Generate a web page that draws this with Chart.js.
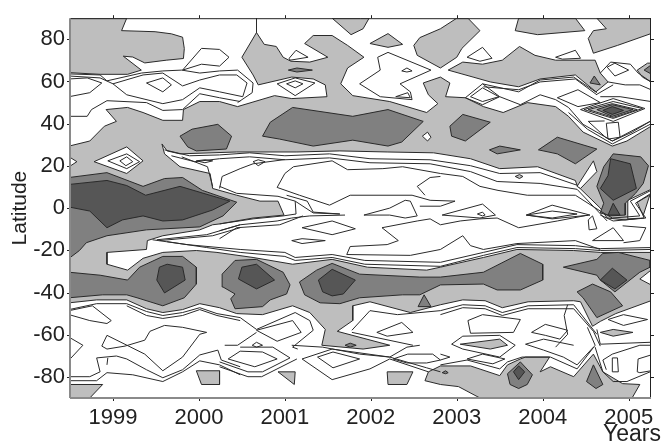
<!DOCTYPE html>
<html>
<head>
<meta charset="utf-8">
<script src="https://cdn.jsdelivr.net/npm/chart.js@4"></script>
<style>
html, body { margin: 0; padding: 0; background: #fff; }
canvas { display: block; }
</style>
</head>
<body>
<canvas id="canvas" width="661" height="446"></canvas>
<script>
// tick labels
var yearTicks = [1999, 2000, 2001, 2002, 2003, 2004, 2005];
var latTicks = [-80, -60, -40, -20, 0, 20, 40, 60, 80];

// contour bands, each one is year,lat,year,lat,...
var grayPatches = [
    [1998.49,29.4, 1998.73,31.8, 1998.90,38.8, 1999.04,41.1, 1998.92,46.7, 1999.17,47.7, 1999.35,45.3, 1999.58,41.6, 1999.81,41.6, 1999.82,46.7, 2000.01,50.5, 2000.24,50.5, 2000.45,48.1, 2000.88,53.3, 2001.08,51.9, 2001.49,52.8, 2001.47,58.4, 2001.33,61.2, 2001.08,62.1, 2000.69,58.4, 2000.63,63.1, 2000.50,71.5, 2000.67,83.2, 2000.76,77.6, 2000.90,76.6, 2000.98,71.5, 2001.07,69.6, 2001.29,69.2, 2001.50,71.5, 2001.23,78, 2001.33,81.8, 2001.55,81.8, 2001.73,77.1, 2001.92,71.5, 2001.73,66.4, 2001.65,58.9, 2001.79,53.3, 2002.22,50.5, 2002.65,45.3, 2002.78,49.5, 2002.67,53.7, 2002.61,59.3, 2002.81,62.1, 2002.92,59.3, 2002.87,52.8, 2003.10,52.3, 2003.31,48.1, 2003.54,45.3, 2003.82,50, 2004.15,48.1, 2004.30,43.5, 2004.47,36, 2004.81,29.4, 2004.98,31.8, 2005.26,38.8,
     2005.26,7.9, 2005.16,-4.7, 2004.96,-5.6, 2004.75,-4.7, 2004.67,0, 2004.40,10.7, 2004.38,13.1, 2003.94,19.6, 2003.50,18.7, 2003.16,23.4, 2002.73,26.2, 2002.19,26.6, 2001.64,27.1, 2001.14,26.6, 2000.44,26.6, 1999.78,25.7, 1999.63,27.1, 1999.57,30.4, 1999.60,25.7, 1999.78,19.6, 2000.13,16.4, 2000.16,9.3, 2000.44,6.1, 2000.71,3.3, 2000.92,3.3, 2000.99,-3.3, 2000.63,-4.7, 2000.24,-7.5, 2000.16,-7.9, 2000.01,-10.3, 1999.58,-13.1, 1999.40,-15.4, 1999.39,-19.6, 1998.93,-21, 1998.93,-26.6, 1999.17,-29.4, 1999.35,-23.8, 1999.58,-21, 1999.97,-20.1, 2000.21,-21, 2000.63,-23.4, 2001.09,-26.6, 2001.55,-24.3, 2001.96,-28, 2002.65,-29.4, 2002.81,-28, 2003.31,-23.4, 2003.70,-19.6, 2004.36,-20.1, 2004.67,-21, 2005.26,-21,
     2005.26,-43.9, 2004.85,-50, 2004.67,-53.7, 2004.58,-56, 2004.44,-44.4, 2004.36,-43.9, 2003.83,-44.4, 2003.53,-47.2, 2003.33,-43.9, 2003.07,-43.5, 2002.81,-45.8, 2002.46,-49.5, 2001.99,-44.4, 2001.79,-46.3, 2001.79,-53.3, 2001.61,-58.4, 2002.22,-65, 2001.91,-66.8, 2001.43,-65, 2001.47,-57.5, 2001.29,-49.5, 2001.09,-46.3, 2000.74,-50.5, 2000.44,-50, 2000.24,-47.2, 2000.01,-45.3, 1999.81,-48.1, 1999.58,-49.5, 1999.39,-47.7, 1999.16,-43.5, 1998.81,-43.5, 1998.49,-44.9],
    [1998.49,90, 1999.16,90, 1999.10,84.1, 1999.49,83.6, 1999.68,82.6, 1999.81,81, 1999.83,75.6, 1999.82,70.9, 1999.62,70.1, 1999.37,68.8, 1999.23,71.6, 1999.12,72, 1999.33,65.4, 1999.17,63.4, 1998.85,63.4, 1998.49,64.2],
    [2001.99,78, 2002.20,82.7, 2002.37,77.6, 2002.20,76.2],
    [2001.55,90, 2001.77,82.2, 2001.91,85, 2001.98,90],
    [2002.50,77.1, 2002.57,80.8, 2002.81,85, 2003.00,90, 2003.13,90, 2003.27,84.1, 2003.06,75.7, 2003.00,71.5, 2002.81,66.4, 2002.54,72.4],
    [2003.68,84.1, 2003.72,90, 2004.38,90, 2004.49,84.1, 2003.94,82.2],
    [2004.53,80.4, 2004.59,84.1, 2004.74,85, 2004.63,90, 2005.26,90, 2005.26,82.7, 2004.87,77.1, 2004.59,73.4],
    [2002.90,65.4, 2003.07,69.2, 2003.30,68.2, 2003.53,70.1, 2003.73,76.6, 2003.91,72.4, 2004.15,70.1, 2004.61,70.1, 2004.67,64, 2004.76,59.8, 2004.62,55.1, 2004.38,63.1, 2003.97,61.2, 2003.72,57.5, 2003.39,59.8, 2003.19,62.1],
    [2005.10,65.4, 2005.22,68.7, 2005.26,68.7, 2005.26,59.8, 2005.16,62.1],
    [2004.53,46.7, 2004.81,49.5, 2005.10,46.7, 2004.82,43],
    [1998.49,-83.6, 1998.88,-83.6, 1998.73,-90, 1998.49,-90],
    [1999.97,-77.1, 2000.24,-77.1, 2000.24,-83.6, 2000.03,-83.6],
    [2000.92,-77.6, 2001.12,-77.6, 2001.11,-83.6],
    [2002.19,-77.6, 2002.49,-77.6, 2002.42,-83.6, 2002.20,-83.6],
    [2002.67,-77.6, 2002.81,-74.8, 2003.16,-74.8, 2003.50,-79.4, 2003.59,-74.3, 2003.74,-71.5, 2003.80,-70.6, 2004.08,-70.6, 2003.97,-77.6, 2004.09,-75.2, 2004.36,-79.9, 2004.59,-69.2, 2004.70,-77.6, 2004.93,-83.2, 2005.13,-83.6, 2005.04,-90, 2003.27,-90, 2003.02,-84.6, 2002.81,-83.6, 2002.63,-81.8],
    [2003.04,-64.5, 2003.50,-62.1, 2003.59,-65, 2003.39,-66.8],
    [2004.67,-58.9, 2004.82,-57.5, 2005.05,-58.9, 2004.82,-60.7],
    [2003.68,15, 2003.73,15.9, 2003.77,15, 2003.73,14]
];

var whitePatches = [
    [1998.49,24.3, 1998.58,22, 1998.49,19.6],
    [1998.78,22, 1999.16,29, 1999.35,22.4, 1999.16,16.4],
    [2004.40,10.3, 2004.59,22.4, 2004.63,17.3, 2004.44,9.3],
    [2002.60,34.1, 2002.66,36, 2002.70,33.6, 2002.66,31.8],
    [2004.99,3.7, 2005.26,8.9, 2005.26,6.5, 2005.10,2.8, 2005.18,-4.7, 2004.99,-5.1],
    [2005.13,-33.6, 2005.26,-29.4, 2005.26,-36.4]
];

var darkPatches = [
    [1999.78,34.1, 1999.92,37.4, 2000.22,39.7, 2000.38,34.1, 2000.32,28, 1999.97,27.1, 1999.87,29],
    [2000.74,34.1, 2000.83,40.7, 2001.09,47.7, 2001.79,43.5, 2002.20,46.7, 2002.61,41.1, 2002.36,31.3, 2002.20,29.4, 2001.79,32.2, 2001.33,29.4, 2000.94,32.7],
    [2002.92,38.8, 2003.07,44.4, 2003.39,40.7, 2003.10,31.8, 2002.94,34.1],
    [2003.38,27.6, 2003.50,29.4, 2003.74,27.6, 2003.47,25.7],
    [2003.95,27.6, 2004.17,33.6, 2004.63,28, 2004.38,21, 2004.17,25.7],
    [2004.82,25.7, 2005.14,24.3, 2005.23,20.1, 2005.17,11.7, 2005.08,7, 2004.96,2.3, 2004.96,-3.3, 2004.79,-3.7, 2004.67,-2.3, 2004.71,2.3, 2004.63,10.3, 2004.71,19.6],
    [1998.49,14.5, 1998.93,16.8, 1999.35,10.3, 1999.60,14, 1999.81,14.5, 2000.04,8.4, 2000.44,2.8, 2000.28,-3.7, 2000.01,-8.9, 1999.39,-10.3, 1998.93,-13.1, 1998.69,-16.4, 1998.61,-20.1, 1998.49,-23.8],
    [1998.49,-30.4, 1998.85,-31.8, 1999.17,-34.1, 1999.31,-28, 1999.58,-22.9, 1999.81,-22.9, 1999.97,-28, 1999.97,-36, 1999.83,-42.5, 1999.58,-46.3, 1999.28,-42.5, 1999.16,-41.1, 1998.88,-41.1, 1998.49,-42.5],
    [2000.27,-31.3, 2000.42,-24.8, 2000.67,-24.3, 2000.98,-30.4, 2001.06,-36.4, 2001.02,-40.7, 2000.83,-43.5, 2000.74,-46.7, 2000.42,-47.7, 2000.37,-43, 2000.42,-40.7, 2000.28,-37.4],
    [2001.17,-35, 2001.37,-29.4, 2001.55,-26.2, 2001.87,-31.3, 2002.57,-32.7, 2002.81,-32.7, 2003.31,-30.4, 2003.74,-21.5, 2004.00,-26.6, 2004.00,-34.1, 2003.74,-38.8, 2003.47,-38.8, 2003.31,-36, 2002.81,-36.4, 2002.57,-41.1, 2002.37,-41.1, 2001.87,-42.5, 2001.64,-45.3, 2001.41,-44.9, 2001.23,-41.1],
    [2004.24,-28, 2004.63,-24.3, 2004.70,-21.5, 2004.88,-21, 2005.25,-24.8, 2005.25,-28, 2005.13,-30.4, 2004.84,-39.7, 2004.67,-34.1, 2004.63,-31.8],
    [2004.40,-39.7, 2004.58,-36, 2004.79,-39.7, 2004.93,-46.3, 2004.63,-51.9, 2004.47,-42.5],
    [2002.55,-46.7, 2002.62,-41.1, 2002.70,-46.7],
    [2004.63,46.7, 2004.81,49, 2005.05,46.7, 2004.81,43.5],
    [2003.59,-78.5, 2003.74,-72.9, 2003.88,-79, 2003.82,-83.6, 2003.72,-85.5, 2003.62,-83.6],
    [2004.51,-82.2, 2004.59,-74.3, 2004.70,-83.6, 2004.62,-85.5],
    [2004.55,59.3, 2004.60,62.6, 2004.67,58.4],
    [2005.18,65.4, 2005.26,67.8, 2005.26,63.6],
    [2002.83,-78, 2002.87,-77.1, 2002.90,-78, 2002.87,-78.5],
    [2001.70,-65, 2001.76,-64, 2001.83,-65, 2001.76,-65.9],
    [2001.04,65.4, 2001.14,66.4, 2001.32,65.4, 2001.14,64.5]
];

var darkestPatches = [
    [2004.79,23.4, 2005.02,21, 2005.09,9.3, 2004.82,3.7, 2004.67,9.3, 2004.76,15.4],
    [2004.82,2.3, 2004.90,-3.3, 2004.76,-3.3],
    [1998.49,11.2, 1998.93,13.1, 1999.16,10.7, 1999.38,6.1, 1999.78,10.3, 2000.36,3.3, 2000.16,-0.9, 1999.81,-5.6, 1999.58,-6.1, 1999.35,-3.7, 1999.11,-5.6, 1998.93,-9.3, 1998.73,-1.4, 1998.49,0.5],
    [1999.51,-34.1, 1999.54,-28, 1999.63,-26.6, 1999.81,-28, 1999.84,-34.1, 1999.60,-40.2],
    [2000.46,-33.6, 2000.50,-28, 2000.67,-26.6, 2000.88,-34.1, 2000.67,-38.3],
    [2001.39,-34.1, 2001.55,-29, 2001.82,-34.1, 2001.68,-40.7, 2001.55,-41.6, 2001.44,-39.7],
    [2004.67,-34.1, 2004.81,-28.5, 2004.98,-34.1, 2004.84,-38.3],
    [2004.70,46.3, 2004.81,48.1, 2004.94,46.3, 2004.81,44.4],
    [2003.66,-77.6, 2003.72,-74.8, 2003.79,-77.6, 2003.72,-81.3]
];

// contour lines with no fill of their own
var contourLines = [
    [2000.67,90, 2000.67,83.2],
    [1998.49,63.6, 1998.85,63.1, 1998.93,60.3, 1999.33,64, 1999.58,65, 1999.80,65.4, 2000.01,64, 2000.24,65, 2000.45,65.4, 2000.63,59.3, 2000.62,54.7, 2000.45,50],
    [1999.00,58.9, 1999.35,63.1, 1999.58,64, 1999.81,57.9, 2000.01,60.7, 2000.24,63.1, 2000.44,63.1, 2000.56,59.3, 2000.51,52.8, 2000.24,55.1, 2000.01,57, 1999.81,51.4, 1999.58,49.5, 1999.16,53.7, 1999.00,58.9],
    [1998.49,62.6, 1998.85,61.7, 1999.00,58.9],
    [1998.49,61.2, 1998.70,61.7, 1998.87,59.3, 1998.73,54.7, 1998.49,52.8],
    [1998.49,43.5, 1998.70,43.5, 1998.75,46.7, 1998.93,50.9, 1999.39,50, 1999.58,46.3, 1999.81,46.7, 2000.01,54.2, 2000.24,52.3, 2000.48,50.5],
    [1999.39,59.3, 1999.58,61.7, 1999.68,58.4, 1999.58,55.1, 1999.39,59.3],
    [1999.81,65.4, 2000.03,75.7, 2000.24,75.2, 2000.35,71.5, 2000.24,67.3, 2000.03,68.2, 1999.81,65.4],
    [2001.05,71, 2001.13,74.8, 2001.27,71.5, 2001.06,70.1, 2001.05,71],
    [2000.91,58.9, 2001.12,61.7, 2001.35,59.3, 2001.12,53.3, 2000.91,58.9],
    [2001.02,58.9, 2001.12,60.3, 2001.21,58.9, 2001.12,57, 2001.02,58.9],
    [2001.87,58.9, 2002.11,65.4, 2002.08,71.5, 2002.20,73.8, 2002.70,65.4, 2002.34,58.9, 2002.46,55.1, 2002.48,51.4, 2002.11,52.8, 2001.87,58.9],
    [2002.36,65, 2002.42,66.4, 2002.48,65, 2002.42,64.5, 2002.36,65],
    [2002.29,52.8, 2002.43,54.7, 2002.46,52.3, 2002.29,52.8],
    [2003.12,71.5, 2003.30,76.2, 2003.41,71, 2003.27,69.6, 2003.12,71.5],
    [2004.15,71.5, 2004.38,74.8, 2004.44,71, 2004.23,70.6, 2004.15,71.5],
    [2004.67,64, 2004.79,69.2, 2005.02,68.2, 2005.11,64, 2005.26,59.8],
    [2004.75,66.8, 2004.84,68.7, 2005.00,65.4, 2004.84,62.6, 2004.75,66.8],
    [2004.76,59.8, 2004.96,58.4, 2005.13,58.4, 2005.26,56.1],
    [2004.62,53.7, 2004.82,58.4],
    [2004.67,52.8, 2004.90,52.8, 2005.26,50.5],
    [2004.17,52.3, 2004.41,56.1, 2004.67,50, 2004.41,48.1, 2004.17,52.3],
    [2003.10,52.3, 2003.30,58.9, 2003.50,52.8, 2003.30,49, 2003.10,52.3],
    [2003.16,52.8, 2003.30,57, 2003.49,52.8, 2003.30,50.5, 2003.16,52.8],
    [2003.30,58.9, 2003.72,55.1, 2003.97,60.7, 2004.36,62.1, 2004.63,54.7],
    [2003.31,57.5, 2003.72,56.1, 2003.97,59.8, 2004.38,61.2, 2004.63,53.7],
    [2003.50,52.8, 2003.74,49, 2003.97,53.7, 2004.15,51.4, 2004.30,47.7, 2004.47,39.7, 2004.81,31.8, 2005.25,41.1],
    [2004.30,45.3, 2004.52,37.4, 2004.81,30.4, 2005.25,39.7],
    [2004.44,46.7, 2004.82,51.9, 2005.19,47.2, 2004.82,41.1, 2004.44,46.7],
    [2004.48,46.7, 2004.82,50.5, 2005.16,47.2, 2004.82,42.5, 2004.48,46.7],
    [2004.53,41.1, 2004.73,33.6, 2004.81,31.8, 2005.04,36, 2005.25,41.1],
    [2004.53,41.1, 2004.72,41.3],
    [2004.74,40.2, 2004.88,40.7, 2004.90,33.6, 2004.76,32.7, 2004.74,40.2],

    [1998.94,22.4, 1999.16,25.7, 1999.31,22, 1999.16,18.7, 1998.94,22.4],
    [1999.08,22.4, 1999.16,24.3, 1999.23,22, 1999.15,20.1, 1999.08,22.4],
    [1999.97,22.4, 2000.07,22.9, 2000.16,22.4, 2000.07,21.5, 1999.97,22.4],
    [1999.80,24.3, 2000.10,19.6, 2000.16,10.3],
    [2000.24,9.3, 2000.27,15, 2000.48,18.7, 2000.63,21, 2001.00,23],
    [2000.63,22, 2000.69,22.9, 2000.77,22, 2000.69,20.1, 2000.63,22],
    [1999.60,27.6, 1999.89,24.8, 2000.24,25.2, 2000.59,26.2, 2001.00,24.8, 2001.52,25.7, 2001.99,23.4, 2002.69,22.9, 2003.16,20.1, 2003.50,16.4, 2003.97,16.8, 2004.41,10.7],
    [1999.68,24.8, 1999.95,22, 2000.24,23.4, 2000.59,24.3, 2001.00,22.9, 2001.52,23.8, 2001.99,21.5, 2002.69,21, 2003.16,17.3, 2003.47,12.6, 2003.97,11.7, 2004.40,8.9, 2004.75,-6.1],
    [2000.91,9.8, 2001.00,16.4, 2001.10,19.6, 2001.55,22.4, 2001.73,18.2, 2002.14,18.7, 2002.37,19.6, 2002.81,16.4, 2003.07,15, 2003.27,10.3, 2003.48,8.4, 2003.82,6.1, 2004.38,6.1, 2004.67,-1.4],
    [2000.91,9.8, 2001.17,6.1, 2001.52,1.4, 2001.76,6.1, 2002.48,6.1, 2002.69,3.7, 2002.98,3.3, 2002.81,0.9, 2002.57,0.9],
    [2002.81,15, 2002.69,14.5, 2002.54,10.3, 2002.63,6.1],
    [2001.92,-3.3, 2002.22,0, 2002.40,3.7, 2002.46,3.3, 2002.54,-3.7, 2002.40,-4.7, 2002.22,-3.3, 2001.92,-3.3],
    [2000.24,10.3, 2000.44,7, 2000.92,5.6, 2001.12,3.3, 2001.13,-2.8, 2000.98,-3.7, 2000.63,-5.1, 2000.24,-7.5],
    [2001.12,3.3, 2001.33,-2.3, 2001.64,-2.8, 2001.33,-1.9],
    [2001.02,6.1, 2001.26,3.3, 2001.33,-1.9],
    [2000.24,-10.7, 2000.48,-7.9, 2000.91,-6.1, 2001.08,-4.7, 2001.29,-3.7, 2001.70,-3.3],
    [2000.24,-14.5, 2000.44,-9.3, 2000.94,-7.9, 2001.21,-3.7],
    [1999.51,-15, 2000.09,-12.6, 2000.48,-7.9],
    [1999.54,-15.4, 2000.16,-13.1, 2000.48,-9.3],
    [1999.46,-15, 1999.86,-17.3, 2000.48,-19.6, 2001.00,-21, 2001.12,-23.4, 2001.55,-22, 2001.93,-24.8, 2002.81,-25.7, 2003.31,-21, 2003.70,-17.3, 2004.38,-17.8, 2004.67,-19.2, 2005.26,-18.7],
    [1999.63,-15.9, 2000.09,-18.7, 2000.48,-21, 2001.00,-22.9, 2001.12,-24.8, 2001.55,-23.4, 2001.93,-26.6, 2002.81,-27.6, 2003.31,-22.4, 2003.70,-18.7, 2004.38,-19.2, 2004.67,-20.1, 2005.26,-19.6],
    [2001.20,-9.3, 2001.55,-6.1, 2001.82,-9.8, 2001.55,-12.6, 2001.20,-9.3],
    [2001.08,-15.4, 2001.20,-14.5, 2001.47,-15.4, 2001.20,-16.8, 2001.08,-15.4],
    [2001.72,-22, 2001.76,-18.2, 2002.19,-17.3, 2002.32,-15.4, 2002.13,-9.3, 2002.54,-6.1, 2002.69,-5.1, 2002.81,-7.9, 2003.04,-6.1, 2003.27,-5.1, 2003.47,-4.7, 2003.72,-9.3, 2004.17,-6.1, 2004.53,-3.3],
    [2001.72,-22, 2002.46,-22.4, 2002.81,-19.6, 2003.07,-13.1, 2003.16,-17.8, 2003.31,-19.6, 2003.70,-16.8, 2004.38,-15.4, 2004.67,-19.6],
    [2002.83,-3.3, 2003.30,1.9, 2003.45,-3.3, 2003.27,-4.7, 2002.83,-3.3],
    [2003.81,-3.3, 2004.11,-1.4, 2004.40,-2.8, 2004.11,-4.7, 2003.81,-3.3],
    [2003.81,-3.3, 2004.11,1.4, 2004.55,-3.3, 2004.11,-5.1, 2003.81,-3.3],
    [2003.24,-2.8, 2003.30,-1.9, 2003.33,-3.3, 2003.30,-3.7, 2003.24,-2.8],
    [2004.58,-15.4, 2004.82,-9.3, 2004.94,-15.4, 2004.58,-15.4],
    [2004.93,-8.4, 2005.20,-9.3, 2005.13,-15.4, 2004.94,-16.4],
    [2004.53,-5.6, 2004.58,-3.7, 2004.63,-9.8, 2004.54,-10.3, 2004.53,-5.6],
    [2004.67,-3.3, 2004.82,-6.1, 2005.20,-4.7, 2005.08,2.3, 2005.26,7],
    [2004.67,-1.4, 2004.81,-4.7, 2005.13,-3.7, 2005.02,3.3, 2005.26,8.4],

    [1998.49,-48.1, 1998.81,-45.3, 1999.16,-45.3, 1999.39,-49, 1999.58,-50.9, 1999.81,-49.5, 2000.01,-47.2, 2000.21,-50, 2000.48,-51.9, 2000.67,-57.5, 2001.12,-49.5, 2001.29,-53.3, 2001.33,-57.9, 2001.09,-65.9, 2001.15,-66.8],
    [1998.49,-48.6, 1998.76,-46.3, 1998.98,-53.3, 1998.93,-54.7, 1998.73,-53.3, 1998.49,-50.5],
    [1999.16,-46.3, 1999.39,-50.9, 1999.58,-52.3, 1999.81,-50.9, 2000.01,-48.1, 2000.21,-50.9, 2000.48,-53.3],
    [2000.67,-57.9, 2001.09,-53.3, 2001.19,-58.9, 2000.91,-63.1, 2000.67,-57.9],
    [2000.30,-65, 2000.45,-65, 2000.67,-58.9],
    [2000.24,-72.9, 2000.57,-77.6, 2000.74,-77.6, 2001.06,-71, 2000.86,-65.9, 2000.48,-65.9],
    [2000.24,-75.2, 2000.57,-79.9, 2000.73,-79.9, 2001.14,-71.5],
    [2000.34,-71.5, 2000.48,-67.8, 2000.74,-68.2, 2000.91,-71.5, 2000.65,-75.2, 2000.34,-71.5],
    [2000.62,-65, 2000.67,-63.6, 2000.74,-65, 2000.67,-65.9, 2000.62,-65],
    [1998.87,-65.4, 1998.93,-60.3, 1999.37,-69.2, 1999.58,-77.1, 1999.81,-70.6, 2000.01,-59.8, 2000.09,-58.9, 1999.81,-56.5, 1999.60,-55.6, 1999.43,-58.4, 1999.37,-62.6, 1999.14,-65.4, 1998.93,-66.8, 1998.87,-65.4],
    [1998.49,-61.2, 1998.65,-65, 1998.49,-72],
    [1998.49,-79.9, 1998.73,-79.9, 1998.85,-77.6, 1998.81,-71, 1999.04,-70.1, 1999.16,-71.5, 1999.39,-76.6, 1999.58,-80.4, 1999.81,-76.6, 2000.01,-69.6, 2000.22,-67.3, 2000.26,-72, 2000.48,-75.2],
    [1998.49,-81.8, 1998.81,-81.8, 1998.93,-78, 1999.23,-79, 1999.58,-82.2, 1999.81,-77.6, 2000.01,-72.4, 2000.24,-74.3, 2000.48,-79],
    [1998.94,-71, 1998.93,-74.3],
    [2001.38,-70.6, 2001.56,-68.2, 2001.87,-71.5, 2001.56,-75.7, 2001.38,-70.6],
    [2001.20,-71.5, 2001.55,-66.8, 2002.22,-70.6, 2002.65,-75.7, 2002.81,-77.6],
    [2001.20,-71.5, 2001.55,-81.3, 2001.99,-76.2, 2002.22,-71.5, 2002.67,-77.6],
    [2002.26,-71.5, 2002.43,-69.2, 2002.72,-69.2, 2002.81,-72, 2002.65,-73.4, 2002.42,-73.4, 2002.26,-71.5],
    [2001.08,-65, 2001.44,-65.9, 2001.87,-69.2, 2002.22,-70.6, 2002.42,-65.9, 2002.57,-65],
    [2001.78,-57.9, 2001.99,-48.6, 2002.31,-50.5, 2002.81,-48.6],
    [2002.07,-58.9, 2002.36,-54.2, 2002.49,-58.9, 2002.19,-60.7, 2002.07,-58.9],
    [2001.78,-58.9, 2002.49,-65],
    [2002.81,-48.6, 2003.07,-45.8, 2003.33,-46.3, 2003.53,-49.5, 2003.83,-46.3, 2004.36,-45.8, 2004.63,-59.8],
    [2002.81,-50.5, 2003.07,-47.2, 2003.33,-47.7, 2003.53,-50.9, 2003.83,-47.7, 2004.36,-47.7, 2004.59,-58.4, 2004.67,-65.4],
    [2003.13,-53.3, 2003.30,-50.5, 2003.74,-52.8, 2003.66,-58.9, 2003.16,-59.3, 2003.13,-53.3],
    [2003.87,-58.9, 2004.03,-55.1, 2004.29,-57.9, 2004.20,-62.1, 2004.03,-60.3, 2003.87,-58.9],
    [2002.94,-64.5, 2003.07,-60.7, 2003.50,-60.3, 2003.68,-65, 2003.50,-70.6, 2003.07,-66.8, 2002.94,-64.5],
    [2003.12,-71.5, 2003.30,-69.2, 2003.56,-71.5, 2003.42,-73.8, 2003.12,-71.5],
    [2003.80,-64.5, 2004.01,-62.1, 2004.36,-65],
    [2003.80,-64.5, 2004.01,-67.3, 2004.24,-70.6, 2004.40,-74.3, 2004.59,-65.9],
    [2004.29,-45.8, 2004.25,-50.9, 2004.29,-59.8, 2004.15,-65.9],
    [2002.81,-69.2, 2002.92,-70.6, 2002.81,-72],
    [2002.81,-74.3, 2003.12,-72, 2003.50,-76.2, 2003.59,-72.9, 2003.76,-70.6, 2004.09,-70.6, 2004.40,-76.2, 2004.61,-65, 2004.52,-56.5],
    [2004.61,-65.9, 2004.70,-77.6, 2004.82,-82.2, 2004.98,-82.2, 2005.25,-77.6],
    [2004.74,-76.6, 2004.70,-72, 2004.81,-69.2, 2005.13,-65, 2005.26,-65],
    [2004.81,-71, 2004.87,-71, 2004.88,-77.6, 2004.81,-77.6, 2004.81,-71],
    [2005.26,-69.6, 2005.11,-71.5, 2005.10,-77.6, 2005.13,-78, 2005.26,-77.1],
    [2004.63,-57.5, 2004.67,-64.5, 2005.25,-63.6],
    [2004.76,-52.8, 2004.94,-50.5, 2005.22,-52.8, 2004.94,-55.6, 2004.76,-52.8]
];

function toPoints(flat, close) {
    var pts = [];
    for (var i = 0; i < flat.length; i += 2) pts.push({ x: flat[i], y: flat[i + 1] });
    if (close) pts.push(pts[0]);
    return pts;
}

function addPatches(list, patches, color) {
    for (var i = 0; i < patches.length; i++) {
        list.push({
            data: toPoints(patches[i], true),
            showLine: true,
            tension: 0,
            pointRadius: 0,
            borderWidth: 1,
            borderColor: '#2a2a2a',
            backgroundColor: color,
            fill: 'shape'
        });
    }
}

var sets = [];
addPatches(sets, grayPatches, '#bebebe');
addPatches(sets, whitePatches, '#ffffff');
addPatches(sets, darkPatches, '#808080');
addPatches(sets, darkestPatches, '#565656');
for (var i = 0; i < contourLines.length; i++) {
    sets.push({
        data: toPoints(contourLines[i], false),
        showLine: true,
        tension: 0,
        pointRadius: 0,
        borderWidth: 1,
        borderColor: '#2a2a2a',
        fill: false
    });
}
// chart.js paints the first dataset last
sets.reverse();

// frame and outward ticks on all four sides
var framePlugin = {
    id: 'frame',
    afterDatasetsDraw: function (chart) {
        var a = chart.chartArea, c = chart.ctx, x = chart.scales.x, y = chart.scales.y;
        c.save();
        c.lineWidth = 1;
        c.strokeStyle = '#222';
        c.beginPath();
        c.moveTo(a.left, a.top + 0.5); c.lineTo(a.right, a.top + 0.5);
        c.moveTo(a.right - 0.5, a.top); c.lineTo(a.right - 0.5, a.bottom);
        yearTicks.forEach(function (v) {
            var p = Math.round(x.getPixelForValue(v)) + 0.5;
            c.moveTo(p, a.top - 3); c.lineTo(p, a.top);
            c.moveTo(p, a.bottom); c.lineTo(p, a.bottom + 3);
        });
        latTicks.forEach(function (v) {
            var p = Math.round(y.getPixelForValue(v)) + 0.5;
            c.moveTo(a.left - 3, p); c.lineTo(a.left, p);
            c.moveTo(a.right, p); c.lineTo(a.right + 3, p);
        });
        c.stroke();
        c.lineWidth = 2;
        c.strokeStyle = '#8a8a8a';
        c.beginPath();
        c.moveTo(a.left, a.top); c.lineTo(a.left, a.bottom);
        c.moveTo(a.left, a.bottom); c.lineTo(a.right, a.bottom);
        c.stroke();
        c.restore();
    }
};

var fontFamily = '"Liberation Sans", Arial, sans-serif';

new Chart('canvas', {
    type: 'scatter',
    data: { datasets: sets },
    plugins: [framePlugin],
    options: {
        responsive: false,
        animation: false,
        events: [],
        layout: { padding: { top: 12 } },
        plugins: {
            legend: { display: false },
            tooltip: { enabled: false },
            title: {
                display: true,
                text: 'Years',
                position: 'bottom',
                align: 'end',
                color: '#222',
                font: { family: fontFamily, size: 23, weight: 'normal', lineHeight: 1.2 },
                // negative padding lets the x axis run underneath the title
                padding: { top: -25, bottom: -2.2 }
            }
        },
        scales: {
            x: {
                type: 'linear',
                min: 1998.5,
                max: 2005.26,
                grid: { display: false, drawTicks: false },
                border: { display: false },
                afterBuildTicks: function (s) {
                    s.ticks = yearTicks.map(function (v) { return { value: v }; });
                },
                afterFit: function (s) { s.height = 47.6; },
                ticks: {
                    color: '#222',
                    padding: 7,
                    maxRotation: 0,
                    autoSkip: false,
                    font: { family: fontFamily, size: 22 },
                    callback: function (v) { return String(v); }
                }
            },
            y: {
                type: 'linear',
                min: -90,
                max: 90,
                grid: { display: false, drawTicks: false },
                border: { display: false },
                afterBuildTicks: function (s) {
                    s.ticks = latTicks.map(function (v) { return { value: v }; });
                },
                afterFit: function (s) { s.width = 70; },
                title: {
                    display: true,
                    text: 'Latitude',
                    color: '#222',
                    font: { family: fontFamily, size: 21 },
                    padding: { top: 8, bottom: 0 }
                },
                ticks: {
                    color: '#222',
                    padding: 5,
                    autoSkip: false,
                    font: { family: fontFamily, size: 22 },
                    callback: function (v) { return String(v); }
                }
            },
            // empty right margin, keeps the plot off the window edge
            margin: {
                type: 'linear',
                position: 'right',
                min: 0,
                max: 1,
                grid: { display: false },
                border: { display: false },
                ticks: { display: false },
                afterFit: function (s) { s.width = 10; }
            }
        }
    }
});
</script>
</body>
</html>
